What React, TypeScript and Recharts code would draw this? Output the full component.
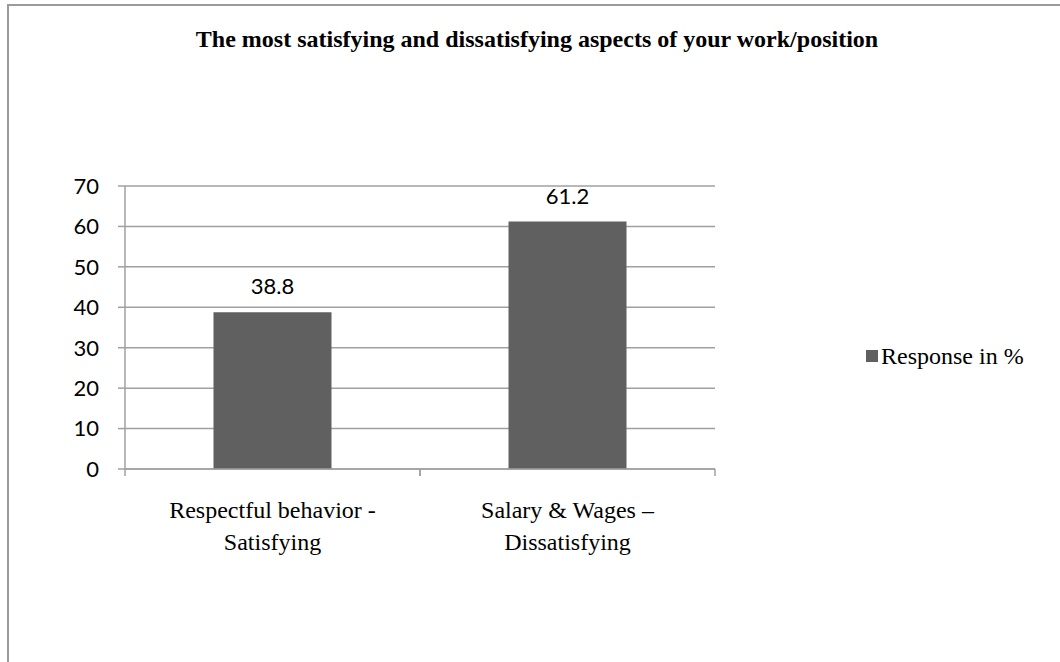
import React from 'react';
import { BarChart, Bar, XAxis, YAxis, CartesianGrid, LabelList } from 'recharts';

const chartTitle = 'The most satisfying and dissatisfying aspects of your work/position';
const seriesName = 'Response in %';
const categories = ['Respectful behavior - Satisfying', 'Salary & Wages – Dissatisfying'];
const categoryLines = [
  ['Respectful behavior -', 'Satisfying'],
  ['Salary & Wages –', 'Dissatisfying'],
];
const responseValues = [38.8, 61.2];
const yTicks = [0, 10, 20, 30, 40, 50, 60, 70];

const data = categories.map((c, i) => ({ name: c, value: responseValues[i] }));

const BAR = '#606060';
const GRID = '#a0a0a0';
const SERIF = '"Liberation Serif", "Times New Roman", serif';
const SANS = 'Lato, "Open Sans", sans-serif';

const CatTick = (props: any) => {
  const { x, y, payload, index } = props;
  const half = payload && typeof payload.offset === 'number' ? payload.offset : 0;
  const lines = categoryLines[index] || [String(payload.value)];
  return (
    <g>
      <line x1={x - half} x2={x - half} y1={y} y2={y + 7} stroke={GRID} strokeWidth={1.5} />
      <line x1={x + half} x2={x + half} y1={y} y2={y + 7} stroke={GRID} strokeWidth={1.5} />
      {lines.map((t, i) => (
        <text key={i} x={x} y={y + 49 + i * 32} textAnchor="middle" fontFamily={SERIF} fontSize={24} fill="#000">
          {t}
        </text>
      ))}
    </g>
  );
};

export default function App() {
  return (
    <div style={{ position: 'absolute', left: 0, top: 0, width: 1060, height: 662, overflow: 'hidden', background: '#fff' }}>
      <div
        style={{
          position: 'absolute',
          left: 7,
          top: 4,
          width: 1062,
          height: 720,
          border: '2px solid #9a9a9a',
          boxSizing: 'border-box',
        }}
      />
      <div style={{ position: 'absolute', left: 0, top: 0 }}>
        <BarChart
          width={1060}
          height={662}
          data={data}
          margin={{ top: 186, right: 345, bottom: 123, left: 0 }}
          barCategoryGap="30%"
        >
          <CartesianGrid vertical={false} stroke={GRID} strokeWidth={1.5} />
          <YAxis
            width={125}
            domain={[0, 70]}
            ticks={yTicks}
            interval={0}
            axisLine={{ stroke: GRID, strokeWidth: 1.5 }}
            tickLine={{ stroke: GRID, strokeWidth: 1.5 }}
            tickSize={7}
            tickMargin={19}
            tick={{ fill: '#000', fontFamily: SANS, fontSize: 22 }}
          />
          <XAxis
            dataKey="name"
            height={70}
            interval={0}
            axisLine={{ stroke: GRID, strokeWidth: 1.5 }}
            tickLine={false}
            tickSize={0}
            tickMargin={0}
            tick={<CatTick />}
          />
          <Bar dataKey="value" name={seriesName} fill={BAR} isAnimationActive={false}>
            <LabelList dataKey="value" position="top" offset={18} fill="#000" fontFamily={SANS} fontSize={22} />
          </Bar>
        </BarChart>
      </div>
      <svg width={1060} height={662} style={{ position: 'absolute', left: 0, top: 0, pointerEvents: 'none' }}>
        <text x={537} y={47} textAnchor="middle" fontFamily={SERIF} fontWeight="bold" fontSize={24} fill="#000">
          {chartTitle}
        </text>
        <rect x={866} y={350} width={12} height={12} fill={BAR} />
        <text x={881} y={364} fontFamily={SERIF} fontSize={24} fill="#000">
          {seriesName}
        </text>
      </svg>
    </div>
  );
}
